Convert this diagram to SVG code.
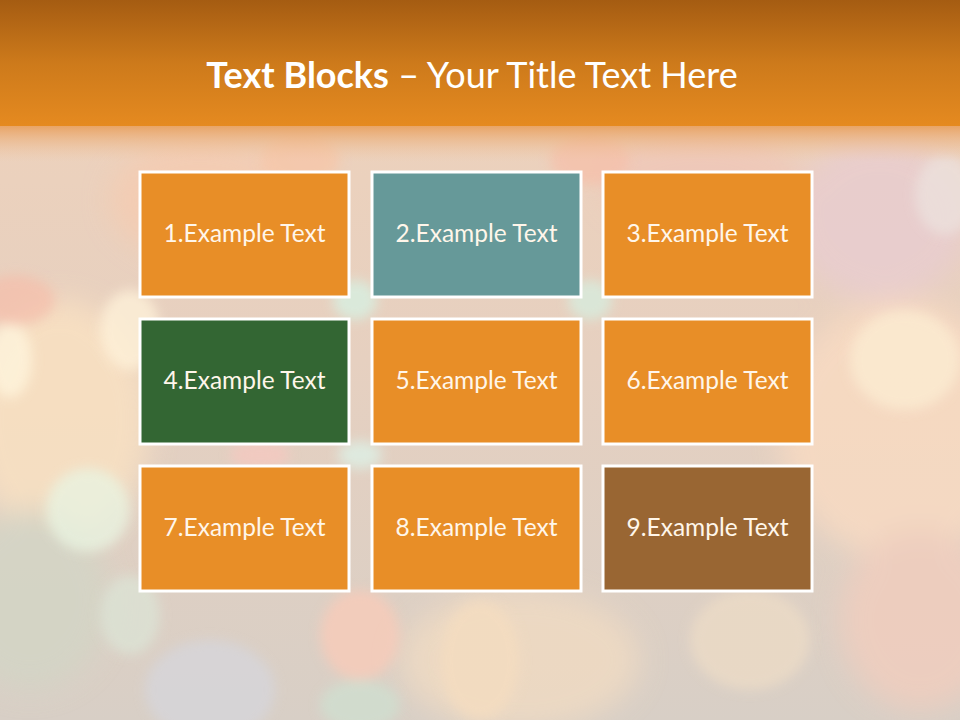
<svg xmlns="http://www.w3.org/2000/svg" width="960" height="720" viewBox="0 0 960 720">
  <defs>
    <linearGradient id="band" x1="0" y1="0" x2="0" y2="1">
      <stop offset="0" stop-color="#A55C12"/>
      <stop offset="0.5" stop-color="#CD7A1B"/>
      <stop offset="1" stop-color="#E58A20"/>
    </linearGradient>
    <linearGradient id="fade" x1="0" y1="0" x2="0" y2="1">
      <stop offset="0" stop-color="#E8A262" stop-opacity="0.95"/>
      <stop offset="1" stop-color="#F0C4A0" stop-opacity="0"/>
    </linearGradient>
    <linearGradient id="base" x1="0" y1="0" x2="0" y2="1">
      <stop offset="0" stop-color="#F0D2BA"/>
      <stop offset="0.5" stop-color="#E6D0C0"/>
      <stop offset="1" stop-color="#D8CFC6"/>
    </linearGradient>
    <filter id="blur" x="-50%" y="-50%" width="200%" height="200%">
      <feGaussianBlur stdDeviation="6"/>
    </filter>
    <filter id="blur2" x="-50%" y="-50%" width="200%" height="200%">
      <feGaussianBlur stdDeviation="14"/>
    </filter>
    <style>
      .box { stroke: #FFFFFF; stroke-width: 3; }
      .lbl { font-family: Lato, "Open Sans", "Liberation Sans", sans-serif; font-size: 24.5px; fill: #FFF6EA; text-anchor: middle; }
      .title { font-family: Lato, "Open Sans", "Liberation Sans", sans-serif; font-size: 36px; fill: #FFFFFF; }
    </style>
  </defs>

  <!-- background -->
  <rect x="0" y="0" width="960" height="720" fill="url(#base)"/>
  <g id="bokeh">
    <g filter="url(#blur2)" opacity="0.75">
      <ellipse cx="60" cy="420" rx="90" ry="120" fill="#FCE3C2"/>
      <ellipse cx="30" cy="600" rx="80" ry="90" fill="#D2D6C6"/>
      <ellipse cx="900" cy="430" rx="120" ry="130" fill="#FBDCC2"/>
      <ellipse cx="880" cy="220" rx="90" ry="80" fill="#E8CCD2"/>
      <ellipse cx="920" cy="620" rx="80" ry="90" fill="#F3CDBD"/>
      <ellipse cx="520" cy="660" rx="120" ry="70" fill="#F2DCC2"/>
      <ellipse cx="200" cy="200" rx="90" ry="60" fill="#F6CBB0"/>
      <ellipse cx="700" cy="180" rx="100" ry="50" fill="#F0C6B8"/>
    </g>
    <g filter="url(#blur)" opacity="0.75">
      <ellipse cx="10" cy="360" rx="22" ry="38" fill="#FFF6DE"/>
      <ellipse cx="130" cy="330" rx="30" ry="40" fill="#FFF3DA"/>
      <ellipse cx="88" cy="510" rx="42" ry="42" fill="#E8F4E2"/>
      <ellipse cx="130" cy="615" rx="30" ry="40" fill="#DCE4D6"/>
      <ellipse cx="15" cy="300" rx="40" ry="25" fill="#F5BFAC"/>
      <ellipse cx="905" cy="360" rx="55" ry="50" fill="#FCEDD3"/>
      <ellipse cx="945" cy="195" rx="30" ry="40" fill="#ECE2DE"/>
      <ellipse cx="360" cy="635" rx="40" ry="45" fill="#FACBB8"/>
      <ellipse cx="480" cy="660" rx="40" ry="60" fill="#F5DDC0"/>
      <ellipse cx="210" cy="690" rx="65" ry="50" fill="#D6D6DC"/>
      <ellipse cx="360" cy="705" rx="40" ry="25" fill="#CFE0D0"/>
      <ellipse cx="355" cy="300" rx="22" ry="20" fill="#D6F2E4"/>
      <ellipse cx="590" cy="300" rx="22" ry="20" fill="#D6EEE0"/>
      <ellipse cx="360" cy="455" rx="22" ry="14" fill="#DDF2E8"/>
      <ellipse cx="260" cy="455" rx="30" ry="14" fill="#F6C8C0"/>
      <ellipse cx="300" cy="160" rx="40" ry="25" fill="#F7C6A8"/>
      <ellipse cx="590" cy="160" rx="40" ry="25" fill="#F6C0AA"/>
      <ellipse cx="750" cy="640" rx="60" ry="50" fill="#EDDCC6"/>
    </g>
  </g>

  <!-- title band -->
  <rect x="0" y="0" width="960" height="126" fill="url(#band)"/>
  <rect x="0" y="126" width="960" height="36" fill="url(#fade)"/>
  <text class="title" x="472" y="88" text-anchor="middle"><tspan font-weight="bold">Text Blocks</tspan> – Your Title Text Here</text>

  <g id="node1">
    <rect class="box" x="140" y="172" width="209" height="125" fill="#E88E27"/>
    <text class="lbl" x="244.5" y="242">1.Example Text</text>
  </g>
  <g id="node2">
    <rect class="box" x="372" y="172" width="209" height="125" fill="#669999"/>
    <text class="lbl" x="476.5" y="242">2.Example Text</text>
  </g>
  <g id="node3">
    <rect class="box" x="603" y="172" width="209" height="125" fill="#E88E27"/>
    <text class="lbl" x="707.5" y="242">3.Example Text</text>
  </g>
  <g id="node4">
    <rect class="box" x="140" y="319" width="209" height="125" fill="#336633"/>
    <text class="lbl" x="244.5" y="389">4.Example Text</text>
  </g>
  <g id="node5">
    <rect class="box" x="372" y="319" width="209" height="125" fill="#E88E27"/>
    <text class="lbl" x="476.5" y="389">5.Example Text</text>
  </g>
  <g id="node6">
    <rect class="box" x="603" y="319" width="209" height="125" fill="#E88E27"/>
    <text class="lbl" x="707.5" y="389">6.Example Text</text>
  </g>
  <g id="node7">
    <rect class="box" x="140" y="466" width="209" height="125" fill="#E88E27"/>
    <text class="lbl" x="244.5" y="536">7.Example Text</text>
  </g>
  <g id="node8">
    <rect class="box" x="372" y="466" width="209" height="125" fill="#E88E27"/>
    <text class="lbl" x="476.5" y="536">8.Example Text</text>
  </g>
  <g id="node9">
    <rect class="box" x="603" y="466" width="209" height="125" fill="#996633"/>
    <text class="lbl" x="707.5" y="536">9.Example Text</text>
  </g>
</svg>
